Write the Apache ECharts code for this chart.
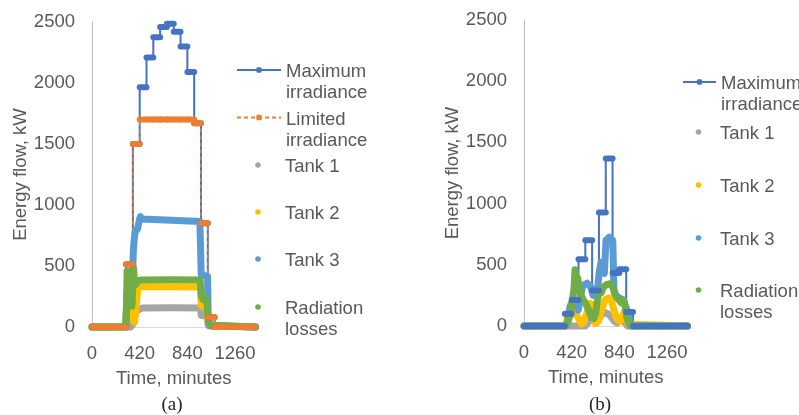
<!DOCTYPE html>
<html>
<head>
<meta charset="utf-8">
<title>Energy flow</title>
<script src="https://cdn.jsdelivr.net/npm/echarts/dist/echarts.min.js"></script>
<style>
  html, body { margin: 0; padding: 0; background: #fff; }
  #chart { width: 799px; height: 415px; }
</style>
</head>
<body>
<div id="chart"></div>
<script>
// hour midpoints, minutes (irradiance is constant over each hour)
const hourMid = [30, 90, 150, 210, 270, 330, 390, 450, 510, 570, 630, 690,
                 750, 810, 870, 930, 990, 1050, 1110, 1170, 1230, 1290, 1350, 1410];

// (a) irradiance, kW per hour
const maxIrrA = [0, 0, 0, 0, 0, 515, 1500, 1965, 2210, 2375, 2460, 2485,
                 2420, 2300, 2090, 1670, 850, 80, 0, 0, 0, 0, 0, 0];
const limIrrA = [0, 0, 0, 0, 0, 515, 1500, 1700, 1700, 1700, 1700, 1700,
                 1700, 1700, 1700, 1670, 850, 80, 0, 0, 0, 0, 0, 0];

// (a) tanks and losses, [minute, kW]
const tank1A = [[0, 0], [340, 0], [352, 5], [362, 25], [372, 70], [382, 110], [395, 135], [410, 148],
  [440, 155], [700, 157], [955, 155], [962, 95], [1000, 90], [1018, 85], [1024, 15], [1035, 0], [1440, 0]];
const tank2A = [[0, 0], [295, 0], [303, 150], [310, 235], [325, 240], [345, 215], [356, 150], [362, 70],
  [375, 40], [390, 45], [397, 250], [403, 315], [425, 330], [700, 330], [955, 328], [962, 175],
  [995, 160], [1015, 150], [1022, 40], [1032, 8], [1042, 0], [1440, 0]];
const tank3A = [[0, 0], [292, 0], [300, 35], [305, 250], [312, 320], [330, 300], [350, 310], [358, 450],
  [364, 620], [372, 720], [382, 790], [400, 800], [414, 805], [418, 880], [426, 905], [440, 885],
  [700, 875], [950, 865], [957, 862], [962, 430], [1000, 420], [1018, 415], [1024, 40], [1034, 10],
  [1045, 0], [1440, 0]];
const radA = [[0, 0], [298, 0], [304, 150], [309, 460], [316, 470], [324, 380], [334, 280], [344, 200],
  [352, 170], [357, 280], [362, 495], [367, 470], [373, 390], [382, 345], [395, 355], [410, 378],
  [430, 385], [700, 387], [952, 385], [960, 375], [964, 250], [978, 225], [992, 240], [1006, 232],
  [1015, 160], [1022, 90], [1034, 40], [1048, 12], [1062, 0], [1440, 0]];

// (b) irradiance, kW per hour
const maxIrrB = [0, 0, 0, 0, 0, 0, 100, 212, 546, 700, 290, 928,
                 1368, 432, 464, 114, 0, 0, 0, 0, 0, 0, 0, 0];

// (b) tanks and losses, [minute, kW]
const tank1B = [[0, 0], [540, 0], [555, 15], [575, 40], [595, 55], [615, 40], [640, 30], [665, 70],
  [690, 100], [715, 110], [745, 95], [770, 70], [795, 40], [820, 25], [845, 55], [870, 45], [895, 20],
  [912, 0], [1440, 0]];
const tank2B = [[0, 0], [368, 0], [382, 50], [398, 115], [425, 150], [448, 115], [470, 80], [490, 40],
  [508, 15], [528, 30], [555, 110], [580, 185], [600, 175], [612, 70], [630, 20], [655, 40], [685, 140],
  [715, 215], [745, 230], [772, 200], [795, 120], [815, 60], [845, 35], [868, 80], [888, 125], [903, 70],
  [918, 15], [932, 0], [1440, 0]];
const tank3B = [[0, 0], [368, 0], [388, 40], [405, 160], [435, 220], [462, 190], [478, 130], [498, 250],
  [518, 330], [555, 350], [588, 320], [608, 250], [628, 270], [648, 300], [662, 440], [678, 520],
  [692, 470], [708, 430], [722, 700], [750, 725], [782, 700], [792, 300], [808, 250], [838, 230],
  [868, 215], [893, 170], [910, 120], [924, 80], [936, 20], [946, 0], [1440, 0]];
const radB = [[0, 0], [355, 0], [378, 20], [405, 80], [425, 200], [440, 300], [450, 460], [458, 360],
  [474, 390], [488, 290], [508, 240], [528, 205], [552, 165], [574, 120], [594, 70], [614, 60],
  [630, 100], [645, 200], [660, 280], [680, 270], [700, 320], [730, 340], [760, 345], [782, 320],
  [800, 260], [828, 220], [856, 190], [878, 210], [894, 150], [908, 60], [924, 20], [940, 0], [1440, 0]];

const xTicks = [0, 420, 840, 1260];

const FONT = '"Liberation Sans", Arial, sans-serif';
const TXT = '#595959';
const C = {
  max: '#4472C4', lim: '#ED7D31', t1: '#A5A5A5', t2: '#FFC000', t3: '#5B9BD5', rad: '#70AD47'
};
// a run of one-minute markers over one hour looks like a capsule
const capsule = 'path://M3 0H9.8A3 3 0 0 1 9.8 6H3A3 3 0 0 1 3 0Z';

function irrSeries(name, vals, idx, color, dashed) {
  return {
    name: name, type: 'line', xAxisIndex: idx, yAxisIndex: idx,
    step: 'middle',
    data: hourMid.map((t, i) => [t, vals[i]]),
    symbol: capsule, symbolSize: [12.8, 6],
    lineStyle: { color: color, width: dashed ? 1.5 : 2, type: dashed ? [4, 3] : 'solid' },
    itemStyle: { color: color },
    clip: false
  };
}

function dotSeries(name, pts, idx, color) {
  return {
    name: name, type: 'line', xAxisIndex: idx, yAxisIndex: idx,
    data: pts, symbol: 'none', showSymbol: false,
    lineStyle: { color: color, width: 7, cap: 'round', join: 'round' },
    itemStyle: { color: color },
    clip: false
  };
}

// one legend per entry so each row sits where it does in the picture.
// a small spacer line above the text keeps the marker level with the first line;
// `mid` is the y of the marker
function legend(name, left, mid, w, twoLine, dotOnly) {
  const parts = name.split(' ');
  const gap = twoLine ? 25 : 4;
  const block = gap + (twoLine ? 42 : 21);
  return {
    data: [name],
    left: left, top: mid - block / 2, padding: 0,
    itemWidth: w, itemHeight: 7, selectedMode: false,
    lineStyle: dotOnly ? { width: 0, opacity: 0 } : {},
    formatter: twoLine
      ? '{g| }\n{t|' + parts[0] + '}\n{t|' + parts.slice(1).join(' ') + '}'
      : '{g| }\n{t|' + name + '}',
    textStyle: {
      color: TXT, fontSize: 18.5, fontFamily: FONT, lineHeight: 21,
      rich: {
        g: { fontSize: 4, lineHeight: gap, height: gap },
        t: { color: TXT, fontSize: 18.5, fontFamily: FONT, lineHeight: 21 }
      }
    }
  };
}

function xAxis(idx) {
  return {
    type: 'value', gridIndex: idx, min: 0, max: 1440, interval: 420,
    axisLine: { show: true, lineStyle: { color: '#d9d9d9' } },
    axisTick: { show: false }, splitLine: { show: false },
    axisLabel: {
      color: TXT, fontSize: 18.5, fontFamily: FONT, margin: 17,
      formatter: v => (xTicks.indexOf(v) >= 0 ? String(v) : '')
    },
    name: 'Time, minutes', nameLocation: 'middle', nameGap: 42,
    nameTextStyle: { color: TXT, fontSize: 18.5, fontFamily: FONT }
  };
}

function yAxis(idx) {
  return {
    type: 'value', gridIndex: idx, min: 0, max: 2500, interval: 500,
    axisLine: { show: true, lineStyle: { color: '#bfbfbf' } },
    axisTick: { show: false }, splitLine: { show: false },
    axisLabel: { color: TXT, fontSize: 18.5, fontFamily: FONT, margin: 17, formatter: v => String(v) },
    name: 'Energy flow, kW', nameLocation: 'middle', nameGap: 61,
    nameTextStyle: { color: TXT, fontSize: 18.5, fontFamily: FONT }
  };
}

const chart = echarts.init(document.getElementById('chart'));
chart.setOption({
  animation: false,
  backgroundColor: '#fff',
  grid: [
    { left: 92, top: 22, width: 163.5, height: 305 },
    { left: 524, top: 20, width: 163.5, height: 306 }
  ],
  xAxis: [xAxis(0), xAxis(1)],
  yAxis: [yAxis(0), yAxis(1)],
  legend: [
    legend('Maximum irradiance', 236, 70, 44, true, false),
    legend('Limited irradiance', 236, 117.5, 44, true, false),
    legend('Tank 1', 236, 165, 44, false, true),
    legend('Tank 2', 236, 212, 44, false, true),
    legend('Tank 3', 236, 259, 44, false, true),
    legend('Radiation losses', 236, 307, 44, true, true),
    legend('Maximum irradiance', 682, 82, 33, true, false),
    legend('Tank 1', 682, 132, 33, false, true),
    legend('Tank 2', 682, 185, 33, false, true),
    legend('Tank 3', 682, 238, 33, false, true),
    legend('Radiation losses', 682, 290, 33, true, true)
  ],
  series: [
    irrSeries('Maximum irradiance', maxIrrA, 0, C.max, false),
    irrSeries('Limited irradiance', limIrrA, 0, C.lim, true),
    dotSeries('Tank 1', tank1A, 0, C.t1),
    dotSeries('Tank 2', tank2A, 0, C.t2),
    dotSeries('Tank 3', tank3A, 0, C.t3),
    dotSeries('Radiation losses', radA, 0, C.rad),
    irrSeries('Maximum irradiance', maxIrrB, 1, C.max, false),
    dotSeries('Tank 1', tank1B, 1, C.t1),
    dotSeries('Tank 2', tank2B, 1, C.t2),
    dotSeries('Tank 3', tank3B, 1, C.t3),
    dotSeries('Radiation losses', radB, 1, C.rad)
  ],
  graphic: [
    { type: 'text', x: 172, y: 405,
      style: { text: '(a)', align: 'center', verticalAlign: 'middle',
               font: '19px "Liberation Serif", serif', fill: '#262626' } },
    { type: 'text', x: 600, y: 405,
      style: { text: '(b)', align: 'center', verticalAlign: 'middle',
               font: '19px "Liberation Serif", serif', fill: '#262626' } }
  ]
});
</script>
</body>
</html>
